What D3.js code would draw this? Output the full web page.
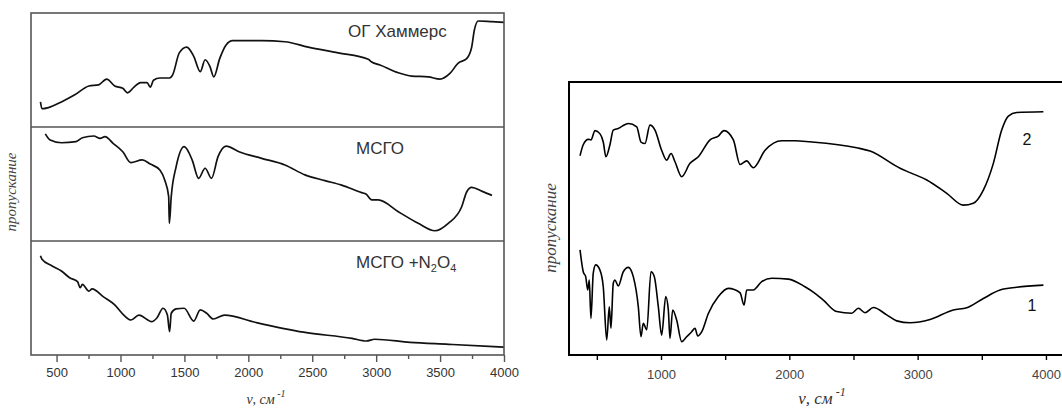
<!DOCTYPE html>
<html>
<head>
<meta charset="utf-8">
<script src="https://cdn.jsdelivr.net/npm/d3@7"></script>
<style>
  body { margin: 0; background: #fff; }
  svg { display: block; }
  .tick text { font-family: Arial, "Liberation Sans", sans-serif; }
</style>
</head>
<body>
<svg id="chart" width="1062" height="410"></svg>
<script>
// wavenumber (cm-1), transmittance (arbitrary units, 0..100 within each frame)
const ogHummers = [
  [374, 22], [386, 16], [437, 17], [538, 22], [639, 28], [753, 36], [829, 37], [892, 42],
  [955, 36], [1018, 34], [1056, 30], [1106, 35], [1157, 39], [1208, 39], [1233, 35], [1258, 41],
  [1308, 43], [1384, 43], [1409, 46], [1460, 65], [1518, 70], [1573, 62], [1624, 48.5], [1662, 59],
  [1700, 53], [1730, 44], [1776, 60], [1826, 72], [1877, 75.7], [2104, 75.7], [2286, 74.8],
  [2469, 70], [2703, 65], [2938, 59.4], [2965, 57], [3030, 54.4], [3173, 47.6], [3278, 44.7],
  [3408, 44], [3499, 42], [3577, 47], [3642, 56], [3708, 60], [3747, 70], [3768, 85], [3799, 93],
  [3904, 92.4], [4000, 91.8]
];
const msgo = [
  [412, 94], [450, 88.6], [538, 86.2], [652, 87.1], [702, 90.6], [791, 92.1], [841, 90.1],
  [879, 91.5], [942, 85.7], [1018, 78.3], [1081, 68.7], [1170, 71.1], [1233, 67.5], [1308, 62.3],
  [1346, 53.5], [1377, 39], [1382, 15.5], [1397, 39], [1435, 65], [1498, 82.7], [1561, 71],
  [1611, 55], [1662, 63.8], [1712, 55], [1763, 74], [1826, 83.3], [1927, 78.3], [2104, 72.5],
  [2286, 66.7], [2443, 58], [2599, 53], [2730, 49], [2887, 42.4], [2920, 41.2], [2965, 36],
  [3016, 36], [3173, 25.7], [3329, 15.5], [3460, 9], [3564, 15.5], [3669, 30], [3708, 43],
  [3747, 47], [3830, 43.5], [3906, 40]
];
const msgoN2O4 = [
  [374, 87], [386, 84], [462, 78.3], [538, 73.7], [602, 67.8], [664, 64.3], [685, 59], [702, 62],
  [753, 56], [778, 58], [867, 51], [955, 44], [1030, 34.5], [1081, 30.7], [1144, 35], [1245, 29.2],
  [1283, 32.2], [1333, 41], [1367, 35], [1384, 20.4], [1397, 36.6], [1435, 40.4], [1498, 41],
  [1573, 29.8], [1624, 39.5], [1674, 36.6], [1725, 31.6], [1814, 35], [2053, 28.7], [2432, 20],
  [2811, 14.6], [2924, 12.3], [2988, 13.8], [3265, 11.1], [3568, 9.4], [3922, 7.3], [4000, 6.8]
];
const curve2 = [
  [369, 73], [394, 77], [433, 79], [454, 78.8], [486, 82.2], [525, 81], [550, 78], [571, 72.6],
  [602, 77], [628, 82.4], [667, 83], [745, 84.8], [811, 83.6], [844, 78], [875, 77.5], [914, 84.2],
  [953, 82.4], [1005, 75], [1044, 71.4], [1078, 73.8], [1109, 70.8], [1161, 65.3], [1226, 70.2],
  [1291, 72.6], [1382, 78.8], [1447, 80.2], [1491, 82.2], [1564, 78.8], [1616, 69.8], [1668, 71.1],
  [1719, 68.6], [1811, 75], [1941, 78.5], [2044, 78.5], [2161, 78.1], [2525, 75.9], [2629, 74.7],
  [2863, 68.4], [2941, 66.8], [3071, 64.1], [3227, 59.2], [3356, 54.9], [3434, 55.6], [3512, 60.4],
  [3590, 70.2], [3655, 82.4], [3707, 87.5], [3772, 88.8], [3980, 89.1]
];
const curve1 = [
  [369, 38.5], [394, 30.5], [413, 28.7], [429, 23.8], [441, 27.5], [454, 13.4], [472, 30], [491, 33],
  [525, 31], [550, 25], [577, 5.5], [597, 17.7], [610, 9.8], [628, 26.3], [641, 27.5], [667, 25.3],
  [706, 30.5], [745, 32.1], [784, 28.7], [823, 17.7], [844, 6.7], [862, 11.6], [889, 9.2],
  [922, 30.5], [948, 28.7], [979, 17.7], [1005, 7.3], [1037, 21.4], [1057, 16.5], [1070, 6.1],
  [1091, 16.5], [1122, 12.8], [1161, 4.9], [1200, 6.7], [1239, 8.5], [1265, 9.8], [1286, 7],
  [1317, 8.5], [1369, 15.2], [1447, 21.4], [1525, 24.4], [1616, 22.8], [1647, 18.3], [1668, 23.8],
  [1719, 23.8], [1785, 26.9], [1863, 28.1], [1992, 27.8], [2122, 25], [2200, 22.6], [2265, 20.1],
  [2369, 15.9], [2486, 15.3], [2538, 17.1], [2590, 15.5], [2655, 17.4], [2759, 14.7], [2837, 12.5],
  [2941, 11.8], [3097, 13], [3278, 16.5], [3383, 17.3], [3512, 20.7], [3642, 23.8], [3772, 24.8],
  [3980, 25.6]
];
const leftTicks = [500, 1000, 1500, 2000, 2500, 3000, 3500, 4000];
const leftMinor = [750, 1250, 1750, 2250, 2750, 3250, 3750];
const rightTicks = [1000, 2000, 3000, 4000];
const rightMinor = [500, 1500, 2500, 3500];

const svg = d3.select('#chart');
const fmt = d3.format('d');

// ---------- left panel: three stacked frames ----------
const L = {left: 31, right: 504, rows: [13, 127, 241, 355]};
const xL = d3.scaleLinear().domain([300, 4000]).range([L.left, L.right]);

const line = (x, y) => d3.line()
    .x(d => x(d[0]))
    .y(d => y(d[1]))
    .curve(d3.curveMonotoneX);

[ogHummers, msgo, msgoN2O4].forEach((data, i) => {
  const y = d3.scaleLinear().domain([0, 100]).range([L.rows[i + 1], L.rows[i]]);
  svg.append('path')
      .datum(data)
      .attr('fill', 'none')
      .attr('stroke', '#111')
      .attr('stroke-width', 1.7)
      .attr('stroke-linejoin', 'round')
      .attr('d', line(xL, y));
});

// frame + dividers
svg.append('rect')
    .attr('x', L.left).attr('y', L.rows[0])
    .attr('width', L.right - L.left).attr('height', L.rows[3] - L.rows[0])
    .attr('fill', 'none').attr('stroke', '#555').attr('stroke-width', 1.6);
[L.rows[1], L.rows[2]].forEach(yy => {
  svg.append('line')
      .attr('x1', L.left).attr('x2', L.right).attr('y1', yy).attr('y2', yy)
      .attr('stroke', '#555').attr('stroke-width', 1.6);
});

// labels inside frames
const lblFont = 'Arial, "Liberation Sans", sans-serif';
svg.append('text').attr('x', 348).attr('y', 37)
    .attr('font-family', lblFont).attr('font-size', 17).attr('fill', '#333')
    .text('ОГ Хаммерс');
svg.append('text').attr('x', 356).attr('y', 154)
    .attr('font-family', lblFont).attr('font-size', 17).attr('fill', '#333')
    .text('МСГО');
const t3 = svg.append('text').attr('x', 356).attr('y', 268)
    .attr('font-family', lblFont).attr('font-size', 17).attr('fill', '#333');
t3.append('tspan').text('МСГО +N');
t3.append('tspan').attr('font-size', 11).attr('dy', 4).text('2');
t3.append('tspan').attr('dy', -4).text('O');
t3.append('tspan').attr('font-size', 11).attr('dy', 4).text('4');

// x axis left
const axL = svg.append('g')
    .attr('transform', `translate(0,${L.rows[3]})`)
    .call(d3.axisBottom(xL).tickValues(leftTicks).tickFormat(fmt).tickSize(7).tickPadding(6));
axL.select('.domain').remove();
axL.selectAll('.tick line').attr('stroke', '#555').attr('stroke-width', 1.4);
axL.selectAll('.tick text').attr('font-size', 13).attr('fill', '#333');
const axLm = svg.append('g')
    .attr('transform', `translate(0,${L.rows[3]})`)
    .call(d3.axisBottom(xL).tickValues(leftMinor).tickSize(4).tickFormat(''));
axLm.select('.domain').remove();
axLm.selectAll('.tick line').attr('stroke', '#555').attr('stroke-width', 1.4);

// axis titles left
const serif = '"Liberation Serif", "DejaVu Serif", serif';
svg.append('text')
    .attr('transform', 'translate(16,192) rotate(-90)')
    .attr('text-anchor', 'middle')
    .attr('font-family', serif).attr('font-style', 'italic')
    .attr('font-size', 15).attr('fill', '#444')
    .text('пропускание');
const xtL = svg.append('text').attr('x', 266).attr('y', 404)
    .attr('text-anchor', 'middle')
    .attr('font-family', serif).attr('font-style', 'italic')
    .attr('font-size', 14).attr('fill', '#333');
xtL.append('tspan').text('ν, см');
xtL.append('tspan').attr('font-size', 10).attr('dy', -7).text(' -1');

// ---------- right panel ----------
const R = {left: 569, right: 1064, top: 82, bottom: 355};
const xR = d3.scaleLinear().domain([283, 4125]).range([R.left, 1062]);
const yR = d3.scaleLinear().domain([0, 100]).range([R.bottom, R.top]);

[curve2, curve1].forEach(data => {
  svg.append('path')
      .datum(data)
      .attr('fill', 'none')
      .attr('stroke', '#000')
      .attr('stroke-width', 1.6)
      .attr('stroke-linejoin', 'round')
      .attr('d', line(xR, yR));
});

svg.append('rect')
    .attr('x', R.left).attr('y', R.top)
    .attr('width', R.right - R.left).attr('height', R.bottom - R.top)
    .attr('fill', 'none').attr('stroke', '#000').attr('stroke-width', 2);

const axR = svg.append('g')
    .attr('transform', `translate(0,${R.bottom})`)
    .call(d3.axisBottom(xR).tickValues(rightTicks).tickFormat(fmt).tickSize(5).tickPadding(10));
axR.select('.domain').remove();
axR.selectAll('.tick line').attr('stroke', '#000').attr('stroke-width', 1.4);
axR.selectAll('.tick text').attr('font-size', 13).attr('fill', '#444');
const axRm = svg.append('g')
    .attr('transform', `translate(0,${R.bottom})`)
    .call(d3.axisBottom(xR).tickValues(rightMinor).tickSize(5).tickFormat(''));
axRm.select('.domain').remove();
axRm.selectAll('.tick line').attr('stroke', '#000').attr('stroke-width', 1.4);

svg.append('text').attr('x', 1027).attr('y', 145)
    .attr('text-anchor', 'middle')
    .attr('font-family', lblFont).attr('font-size', 16).attr('fill', '#111')
    .text('2');
svg.append('text').attr('x', 1032).attr('y', 311)
    .attr('text-anchor', 'middle')
    .attr('font-family', lblFont).attr('font-size', 16).attr('fill', '#111')
    .text('1');

svg.append('text')
    .attr('transform', 'translate(556,228) rotate(-90)')
    .attr('text-anchor', 'middle')
    .attr('font-family', serif).attr('font-style', 'italic')
    .attr('font-size', 17).attr('fill', '#444')
    .text('пропускание');
const xtR = svg.append('text').attr('x', 822).attr('y', 404)
    .attr('text-anchor', 'middle')
    .attr('font-family', serif).attr('font-style', 'italic')
    .attr('font-size', 17).attr('fill', '#333');
xtR.append('tspan').text('ν, см');
xtR.append('tspan').attr('font-size', 12).attr('dy', -8).text(' -1');
</script>
</body>
</html>
